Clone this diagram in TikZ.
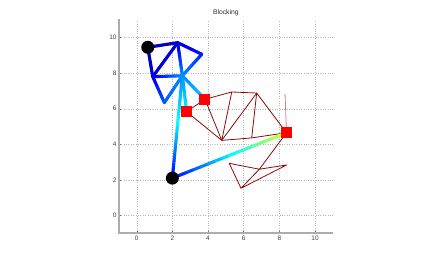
\documentclass[tikz,border=0pt]{standalone}
\usepackage{fontspec}
\setmainfont{Liberation Sans}
\usepackage{xcolor}
\usetikzlibrary{calc}

\definecolor{netred}{rgb}{0.55,0.04,0.04}
\definecolor{axisgray}{rgb}{0.68,0.68,0.68}

% one thick edge coloured along the jet map, from value #3 at #1 to value #4 at #2
\newcommand{\jetedge}[4]{%
  \foreach \k in {0,...,15}{
    \pgfmathsetmacro\ta{\k/16}
    \pgfmathsetmacro\tb{(\k+1)/16}
    \pgfmathsetmacro\jv{#3+(#4-#3)*(\k+0.5)/16}
    \pgfmathsetmacro\jr{max(0,min(1,4*\jv-1.5,4.5-4*\jv))}
    \pgfmathsetmacro\jg{max(0,min(1,4*\jv-0.5,3.5-4*\jv))}
    \pgfmathsetmacro\jb{max(0,min(1,4*\jv+0.5,2.5-4*\jv))}
    \definecolor{jetc}{rgb}{\jr,\jg,\jb}
    \draw[flow, jetc] ($(#1)!\ta!(#2)$) -- ($(#1)!\tb!(#2)$);
  }%
}

\begin{document}
\begin{tikzpicture}[
  x=17.83pt, y=17.8pt,
  flow/.style={line width=3.1pt, line cap=round},
  link/.style={netred, line width=0.8pt, line join=round},
  gridline/.style={gray!55, line width=0.4pt, dash pattern=on 0.7pt off 1.7pt},
  axline/.style={axisgray, line width=1.8pt},
  ticklabel/.style={font=\fontsize{6.5}{7}\selectfont, text=black!75, inner sep=0pt},
  source/.style={circle, fill=black, minimum size=13pt, inner sep=0pt},
  target/.style={rectangle, fill=red, minimum size=11pt, inner sep=0pt}
]
  \useasboundingbox (-7.667,-2.612) rectangle (16.786,12.107);

  % grid and axes
  \foreach \v in {0,2,...,10}{
    \draw[gridline] (\v,-1) -- (\v,11);
    \draw[gridline] (-1,\v) -- (11,\v);
    \draw[black!60, line width=0.4pt] (\v,-1) -- (\v,-0.86);
    \draw[black!60, line width=0.4pt] (-1,\v) -- (-0.86,\v);
    \node[ticklabel] (xl\v) at (\v,-1.28) {\v};
    \node[ticklabel, anchor=east] (yl\v) at (-1.12,\v) {\v};
  }
  \draw[axline] (-1,11.02) -- (-1,-1) -- (11.02,-1);
  \node[font=\fontsize{6.8}{8}\selectfont, text=black!80] (title) at (5,11.39) {Blocking};

  % points of the network
  \coordinate (a)  at (0.62,9.45);
  \coordinate (b)  at (2.30,9.71);
  \coordinate (c)  at (3.65,9.06);
  \coordinate (d)  at (0.90,7.80);
  \coordinate (e)  at (2.56,7.85);
  \coordinate (f)  at (1.55,6.34);
  \coordinate (h)  at (2.30,5.20);
  \coordinate (g)  at (2.00,2.10);
  \coordinate (s1) at (2.80,5.83);
  \coordinate (s2) at (3.83,6.53);
  \coordinate (s3) at (8.40,4.65);
  \coordinate (p1) at (5.33,6.94);
  \coordinate (p2) at (6.73,6.88);
  \coordinate (q)  at (4.77,4.22);
  \coordinate (r)  at (6.45,4.36);
  \coordinate (t)  at (8.32,6.84);
  \coordinate (v)  at (5.19,2.93);
  \coordinate (u)  at (5.85,1.53);
  \coordinate (w)  at (8.41,2.84);
  \coordinate (x)  at (6.88,2.60);

  % unused links
  \draw[link] (s1) -- (s2) -- (p1) -- (p2) -- (s3);
  \draw[link] (s1) -- (q);
  \draw[link] (s2) -- (q);
  \draw[link] (p1) -- (q) -- (p2);
  \draw[link] (q) -- (r) -- (s3);
  \draw[link] (r) -- (p2);
  \draw[link, opacity=0.5] (t) -- (s3);
  \draw[link] (s3) -- (x) -- (u) -- (v) -- (x) -- (w) -- (u);

  % flow edges
  \jetedge{a}{b}{0.04}{0.08}
  \jetedge{a}{d}{0.04}{0.10}
  \jetedge{b}{d}{0.08}{0.10}
  \jetedge{b}{c}{0.08}{0.15}
  \jetedge{b}{e}{0.08}{0.26}
  \jetedge{c}{e}{0.15}{0.26}
  \jetedge{d}{e}{0.10}{0.26}
  \jetedge{d}{f}{0.10}{0.21}
  \jetedge{f}{e}{0.21}{0.26}
  \jetedge{e}{s2}{0.26}{0.32}
  \jetedge{e}{s1}{0.26}{0.37}
  \jetedge{e}{h}{0.26}{0.38}
  \jetedge{h}{g}{0.38}{0.12}
  \jetedge{g}{s3}{0.12}{0.60}

  % sources and sinks
  \node[source] (src1) at (a) {};
  \node[source] (src2) at (g) {};
  \node[target] (snk1) at (s1) {};
  \node[target] (snk2) at (s2) {};
  \node[target] (snk3) at (s3) {};
\end{tikzpicture}
\end{document}
